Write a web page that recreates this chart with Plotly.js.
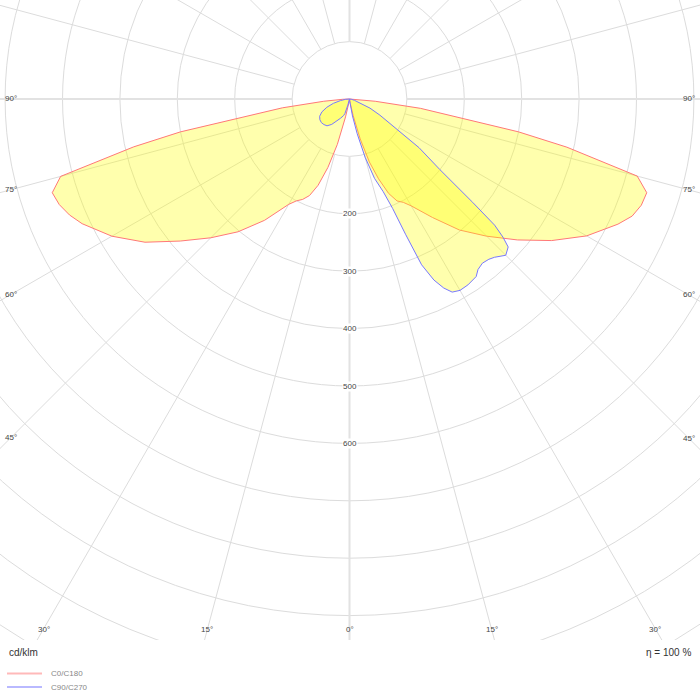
<!DOCTYPE html>
<html>
<head>
<meta charset="utf-8">
<script src="https://cdn.plot.ly/plotly-3.0.1.min.js"></script>
<style>
	body { margin: 0; background: #fff; }
	#plot { width: 700px; height: 700px; }
</style>
</head>
<body>
<div id="plot"></div>
<script>
// luminous intensity in cd/klm, gamma in degrees from nadir
var c0_gamma = [0, 5, 10, 12.5, 15, 17.5, 20, 22.5, 25, 27.5, 30, 35, 40, 45, 50, 55, 60, 65, 67.5, 70, 72.5, 75, 77.5, 79, 80, 82.5, 85, 87.5, 90];
var c0_values = [0, 2, 8, 30, 72, 115, 148, 178, 196, 203, 215, 252, 298, 338, 382, 430, 477, 516, 533, 541, 543, 519, 388, 300, 205, 125, 45, 12, 0];

var c180_gamma = [0, 5, 10, 12.5, 15, 17.5, 20, 22.5, 25, 27.5, 30, 35, 40, 45, 50, 55, 60, 65, 67.5, 70, 72.5, 75, 77.5, 79, 80, 82.5, 85, 87.5, 90];
var c180_values = [0, 2, 8, 32, 82, 125, 160, 182, 193, 200, 212, 258, 302, 342, 385, 435, 478, 514, 528, 538, 543, 521, 385, 300, 205, 118, 45, 12, 0];

var c90_gamma = [0, 5, 10, 12.5, 15, 17.5, 20, 21.5, 22.5, 23.5, 25, 26.5, 28, 30, 32.5, 34, 35.5, 37, 39, 41, 42.5, 45, 47, 48, 49, 50, 51, 52, 55, 57, 59, 62, 66, 70, 75, 80, 90];
var c90_values = [0, 3, 30, 62, 105, 145, 172, 205, 255, 315, 348, 368, 381, 385, 384, 382, 380, 372, 368, 370, 374, 385, 378, 360, 335, 280, 232, 200, 148, 105, 82, 60, 39, 19, 9, 4, 0];

var c270_gamma = [0, 10, 15, 17.5, 20, 25, 30, 35, 40, 45, 50, 55, 60, 65, 70, 75, 80, 85, 90];
var c270_values = [0, 4, 11, 27, 31, 37, 45, 54, 61, 63, 64, 63, 60, 53, 42, 29, 16, 7, 0];

var ring_labels = [200, 300, 400, 500, 600];
var angle_ticks = [0, 15, 30, 45, 60, 75, 90];
var legend_names = ["C0/C180", "C90/C270"];
var unit_text = "cd/klm";
var efficiency_text = "η = 100 %";

const plot_w = 700;
const plot_h = 640;
const center_x = 349.5;
const center_y = 99;
const px_per_unit = 0.574;
const font_name = "Liberation Sans, Arial, sans-serif";

function polar_points(gammas, values, side)
{
	var x = [];
	var y = [];
	for (var i = 0; i < gammas.length; i++)
	{
		var a = gammas[i] * Math.PI / 180;
		x.push(side * values[i] * Math.sin(a));
		y.push(-values[i] * Math.cos(a));
	}
	return [x, y];
}

function plane_trace(right_g, right_v, left_g, left_v, line_color, name)
{
	var [xr, yr] = polar_points(right_g, right_v, 1);
	var [xl, yl] = polar_points(left_g, left_v, -1);
	xl.reverse();
	yl.reverse();
	return {
		type: "scatter",
		mode: "lines",
		name: name,
		x: xr.concat(xl),
		y: yr.concat(yl),
		fill: "toself",
		fillcolor: "rgba(255,255,0,0.32)",
		line: {color: line_color, width: 1},
		hoverinfo: "skip"
	};
}

function paper_x(p) { return p / plot_w; }
function paper_y(p) { return (plot_h - p) / plot_h; }

function grid_shapes()
{
	var shapes = [];
	for (var r = 100; r <= 1200; r += 100)
	{
		shapes.push({
			type: "circle", xref: "x", yref: "y", layer: "below",
			x0: -r, x1: r, y0: -r, y1: r,
			line: {color: "#dcdcdc", width: 1}
		});
	}
	for (var a = 0; a < 360; a += 15)
	{
		var rad = a * Math.PI / 180;
		var major = (a % 90 == 0);
		shapes.push({
			type: "line", xref: "x", yref: "y", layer: "below",
			x0: 100 * Math.sin(rad), y0: -100 * Math.cos(rad),
			x1: 1500 * Math.sin(rad), y1: -1500 * Math.cos(rad),
			line: {color: major ? "#e2e2e2" : "#dcdcdc", width: major ? 2 : 1}
		});
	}
	return shapes;
}

function angle_annotations()
{
	var notes = [];
	angle_ticks.forEach(a =>
	{
		[1, -1].forEach(side =>
		{
			if (a == 0 && side == -1) return;
			var rad = a * Math.PI / 180;
			var sx = side * Math.sin(rad);
			var sy = Math.cos(rad);
			var t = Infinity;
			if (Math.abs(sx) > 1e-6)
			{
				var edge = side > 0 ? 688.5 - center_x : center_x - 11;
				t = Math.min(t, edge / Math.abs(sx));
			}
			if (sy > 1e-6)
			{
				t = Math.min(t, (629 - center_y) / sy);
			}
			notes.push({
				xref: "paper", yref: "paper",
				x: paper_x(center_x + sx * t), y: paper_y(center_y + sy * t),
				xanchor: "center", yanchor: "middle",
				text: a + "°", showarrow: false,
				font: {family: font_name, size: 8, color: "#444"}
			});
		});
	});
	return notes;
}

function setup()
{
	var traces = [
		plane_trace(c0_gamma, c0_values, c180_gamma, c180_values, "rgb(255,120,120)", legend_names[0]),
		plane_trace(c90_gamma, c90_values, c270_gamma, c270_values, "rgb(120,120,255)", legend_names[1])
	];

	var annotations = angle_annotations();

	ring_labels.forEach(v =>
	{
		annotations.push({
			xref: "x", yref: "y", x: 0, y: -v,
			xanchor: "center", yanchor: "middle",
			text: String(v), showarrow: false,
			bgcolor: "#fff", borderpad: 0,
			font: {family: font_name, size: 8, color: "#444"}
		});
	});

	annotations.push({
		xref: "paper", yref: "paper", x: paper_x(7), y: paper_y(652),
		xanchor: "left", yanchor: "middle", text: unit_text, showarrow: false,
		font: {family: font_name, size: 10, color: "#333"}
	});
	annotations.push({
		xref: "paper", yref: "paper", x: paper_x(693), y: paper_y(652),
		xanchor: "right", yanchor: "middle", text: efficiency_text, showarrow: false,
		font: {family: font_name, size: 10, color: "#333"}
	});

	var shapes = grid_shapes();
	var legend_colors = ["rgb(255,185,185)", "rgb(185,185,255)"];
	legend_names.forEach((name, i) =>
	{
		var yy = 673.5 + i * 13.5;
		shapes.push({
			type: "line", xref: "paper", yref: "paper",
			x0: paper_x(7), x1: paper_x(42), y0: paper_y(yy), y1: paper_y(yy),
			line: {color: legend_colors[i], width: 2}
		});
		annotations.push({
			xref: "paper", yref: "paper", x: paper_x(49), y: paper_y(yy),
			xanchor: "left", yanchor: "middle", text: name, showarrow: false,
			font: {family: font_name, size: 8, color: "#888"}
		});
	});

	var layout =
	{
		width: 700,
		height: 700,
		margin: {l: 0, r: 0, t: 0, b: 60},
		paper_bgcolor: "#fff",
		plot_bgcolor: "#fff",
		showlegend: false,
		xaxis: {
			range: [-center_x / px_per_unit, (plot_w - center_x) / px_per_unit],
			showgrid: false, zeroline: false, showticklabels: false, ticks: "", showline: false
		},
		yaxis: {
			range: [-(plot_h - center_y) / px_per_unit, center_y / px_per_unit],
			showgrid: false, zeroline: false, showticklabels: false, ticks: "", showline: false
		},
		shapes: shapes,
		annotations: annotations
	};

	Plotly.newPlot("plot", traces, layout, {staticPlot: true});
}

setup();
</script>
</body>
</html>
